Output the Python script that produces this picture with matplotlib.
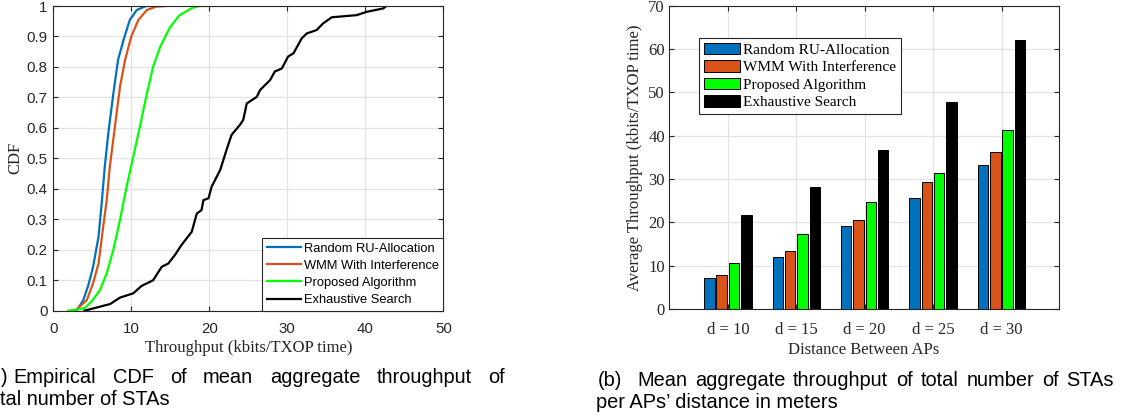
import matplotlib
matplotlib.use("Agg")
import numpy as np
import matplotlib.pyplot as plt
from matplotlib.ticker import FormatStrFormatter, MultipleLocator

SERIF = "Liberation Serif"
SANS = "Liberation Sans"
INK = "#262626"

series_names = ["Random RU-Allocation", "WMM With Interference",
                "Proposed Algorithm", "Exhaustive Search"]
series_colors = ["#0072BD", "#D95319", "#00FF00", "#000000"]

# (a) empirical CDF curves
random_x = [3.0, 3.85, 4.5, 5.1, 5.8, 6.2, 6.6, 7.05, 7.7, 8.3, 9.0, 9.8, 10.7, 11.9, 12.4]
random_cdf = [0, 0.035, 0.084, 0.144, 0.243, 0.352, 0.473, 0.582, 0.713, 0.823, 0.888, 0.954, 0.987, 1.0, 1.0]

wmm_x = [2.8, 4.3, 5.1, 5.8, 6.4, 6.85, 7.25, 7.9, 8.55, 9.2, 10.0, 10.9, 12.0, 13.2, 14.5]
wmm_cdf = [0, 0.035, 0.09, 0.155, 0.276, 0.363, 0.473, 0.604, 0.735, 0.823, 0.9, 0.954, 0.987, 0.998, 1.0]

proposed_x = [1.9, 4.0, 4.9, 6.0, 6.85, 7.7, 8.55, 9.4, 10.25, 11.1, 12.0, 12.8, 13.7,
              15.0, 16.2, 17.9, 18.8, 20.8]
proposed_cdf = [0, 0.008, 0.03, 0.068, 0.123, 0.2, 0.298, 0.407, 0.505, 0.604, 0.713, 0.801,
                0.866, 0.932, 0.97, 0.995, 1.0, 1.0]

exhaustive_x = [4.0, 7.3, 8.55, 10.25, 11.3, 12.8, 13.9, 14.75, 15.6, 16.45, 17.75, 18.4, 19.0,
                19.25, 19.9, 20.3, 21.4, 22.2, 22.85, 23.9, 24.35, 24.8, 26.1, 26.5, 27.8,
                28.4, 29.3, 30.1, 30.8, 31.85, 32.5, 33.75, 34.6, 35.7, 38.9, 40.2, 42.3, 42.7]
exhaustive_cdf = [0.0, 0.022, 0.043, 0.057, 0.081, 0.1, 0.144, 0.155, 0.183, 0.216, 0.259, 0.319,
                  0.33, 0.363, 0.369, 0.407, 0.462, 0.527, 0.577, 0.609, 0.626, 0.68, 0.702,
                  0.724, 0.757, 0.785, 0.795, 0.834, 0.845, 0.894, 0.91, 0.921, 0.943, 0.963,
                  0.97, 0.981, 0.992, 1.0]

# (b) mean aggregate throughput per AP distance
distances = ["d = 10", "d = 15", "d = 20", "d = 25", "d = 30"]
random_tp = [7.1, 12.0, 19.1, 25.6, 33.2]
wmm_tp = [7.8, 13.4, 20.5, 29.4, 36.3]
proposed_tp = [10.7, 17.2, 24.6, 31.5, 41.2]
exhaustive_tp = [21.7, 28.2, 36.6, 47.7, 62.0]

W, H = 1124, 415
fig = plt.figure(figsize=(W / 100, H / 100), dpi=100)


def matlab_box(ax, tick_font, tick_size):
    ax.set_axisbelow(True)
    ax.grid(True, color="#e3e3e3", linewidth=0.9)
    for s in ax.spines.values():
        s.set_color(INK)
        s.set_linewidth(0.8)
    ax.tick_params(direction="in", top=True, right=True, length=3.5, width=0.8,
                   colors=INK, labelsize=tick_size)
    for lab in ax.get_xticklabels() + ax.get_yticklabels():
        lab.set_fontfamily(tick_font)


# ---- left: CDF ----
ax1 = fig.add_axes([53.3 / W, 104.3 / H, 390 / W, 304.7 / H])
curves = [(random_x, random_cdf), (wmm_x, wmm_cdf),
          (proposed_x, proposed_cdf), (exhaustive_x, exhaustive_cdf)]
for (xs, ys), name, c in zip(curves, series_names, series_colors):
    ax1.plot(xs, ys, color=c, linewidth=1.6, label=name)
ax1.set_xlim(0, 50)
ax1.set_ylim(0, 1)
ax1.xaxis.set_major_locator(MultipleLocator(10))
ax1.yaxis.set_major_locator(MultipleLocator(0.1))
ax1.yaxis.set_major_formatter(FormatStrFormatter("%g"))
matlab_box(ax1, SANS, 10.8)
ax1.tick_params(axis="x", pad=8)
ax1.tick_params(axis="y", pad=4)
ax1.set_xlabel("Throughput (kbits/TXOP time)", fontfamily=SERIF, fontsize=12, color=INK)
ax1.set_ylabel("CDF", fontfamily=SERIF, fontsize=12, color=INK)
ax1.xaxis.set_label_coords(0.5, -0.1224)
ax1.xaxis.label.set_va("center")
ax1.yaxis.set_label_coords(-0.098, 0.5)
ax1.yaxis.label.set_va("center")
leg1 = ax1.legend(loc="lower right", bbox_to_anchor=(1, 0), borderaxespad=0,
                  prop={"family": SANS, "size": 9.3}, handlelength=2.6,
                  handletextpad=0.25, labelspacing=0.4, borderpad=0.35,
                  fancybox=False, framealpha=1, edgecolor=INK)
leg1.get_frame().set_linewidth(0.8)

# ---- right: grouped bars ----
ax2 = fig.add_axes([669 / W, 106 / H, 390 / W, 303.3 / H])
pos = np.arange(1, len(distances) + 1)
bar_sets = [random_tp, wmm_tp, proposed_tp, exhaustive_tp]
offsets = [-0.27, -0.09, 0.09, 0.27]
for vals, off, name, c in zip(bar_sets, offsets, series_names, series_colors):
    ax2.bar(pos + off, vals, width=0.152, color=c, edgecolor="black",
            linewidth=0.7, label=name)
ax2.set_xlim(0.14, 5.84)
ax2.set_ylim(0, 70)
ax2.set_xticks(pos)
ax2.set_xticklabels(distances)
ax2.yaxis.set_major_locator(MultipleLocator(10))
matlab_box(ax2, SERIF, 12)
ax2.tick_params(axis="x", pad=9)
ax2.tick_params(axis="y", pad=3)
ax2.set_xlabel("Distance Between APs", fontfamily=SERIF, fontsize=12, color=INK)
ax2.set_ylabel("Average Throughput (kbits/TXOP time)", fontfamily=SERIF, fontsize=12, color=INK)
ax2.xaxis.set_label_coords(0.5, -0.1352)
ax2.xaxis.label.set_va("center")
ax2.yaxis.set_label_coords(-0.087, 0.5)
ax2.yaxis.label.set_va("center")
leg2 = ax2.legend(loc="upper left", bbox_to_anchor=(0.077, 0.8935), borderaxespad=0,
                  prop={"family": SERIF, "size": 11}, handlelength=2.4,
                  handleheight=0.8, handletextpad=0.2, labelspacing=0.22,
                  borderpad=0.3, fancybox=False, framealpha=1, edgecolor=INK)
leg2.get_frame().set_linewidth(0.8)

# ---- captions (justified first lines, as in the paper; (a) is cropped on the left) ----
cap_kw = dict(fontfamily=SANS, fontsize=14.4, color="black", va="baseline")
renderer = fig.canvas.get_renderer()


def justified(label, words, label_right, x0, x1, base):
    y = 1 - base / H
    fig.text(label_right / W, y, label, ha="right", **cap_kw)
    texts = [fig.text(0, y, w, ha="left", **cap_kw) for w in words]
    widths = [t.get_window_extent(renderer).width for t in texts]
    gap = (x1 - x0 - sum(widths)) / (len(words) - 1)
    x = x0
    for t, w in zip(texts, widths):
        t.set_x(x / W)
        x += w + gap


justified(")", "Empirical CDF of mean aggregate throughput of".split(),
          7.5, 13.5, 505, 383)
fig.text(0.5 / W, 1 - 405 / H, "tal number of STAs", ha="left", **cap_kw)

justified("(b)", "Mean aggregate throughput of total number of STAs".split(),
          622, 637, 1114, 386)
fig.text(596 / W, 1 - 408 / H, "per APs\u2019 distance in meters", ha="left", **cap_kw)

fig.savefig("out.png", dpi=100)
